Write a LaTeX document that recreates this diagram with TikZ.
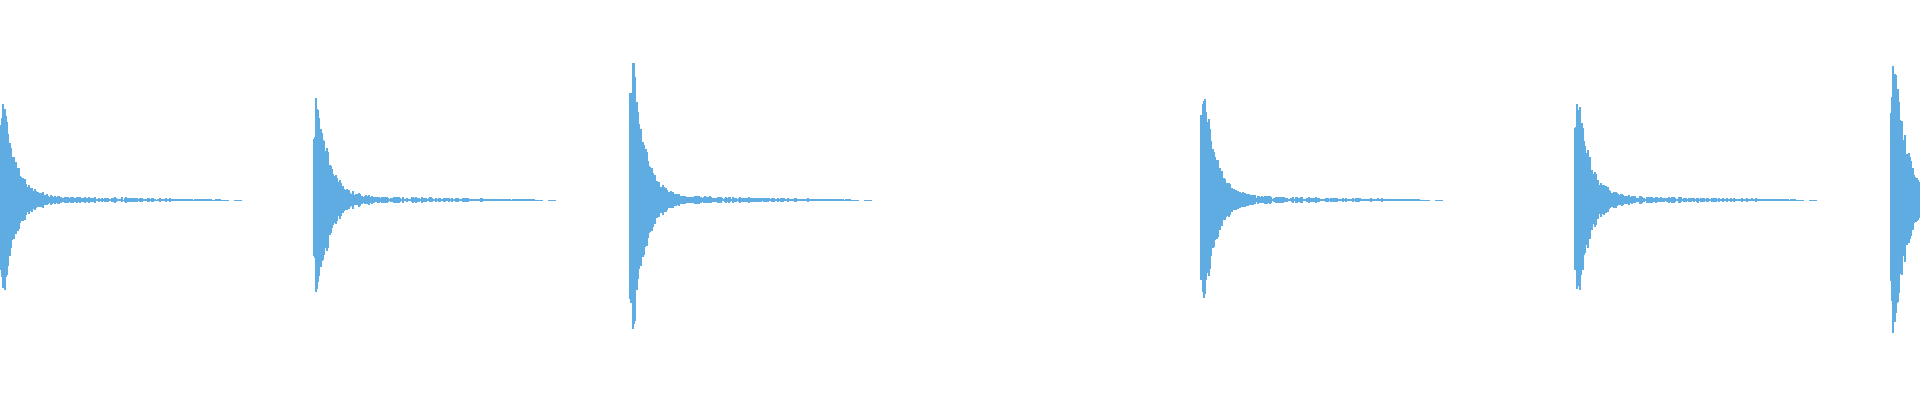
\documentclass[tikz,border=0pt]{standalone}
\definecolor{wave}{RGB}{94,172,226}
\begin{document}
\begin{tikzpicture}[x=1pt,y=-1pt,wavebar/.style={draw=wave,line width=1.1pt}]
\useasboundingbox (0,0) rectangle (1920,400);
\pgfmathsetseed{11}
\foreach \xz/\amp in {0/104,314/102,630/138,1201/110,1575/101,1891/141}{
  \foreach \i in {0,...,220}{
    \pgfmathsetmacro{\xx}{\xz+\i}
    \ifdim\xx pt<1920pt
    \pgfmathsetmacro{\env}{\amp*exp(-max(\i-4,0)/12)*(0.72+0.28*rnd)*(\i<2?0.75:1)+ (4.5-\i/55)*rnd}
    \pgfmathsetmacro{\up}{200-\env-0.4}
    \pgfmathsetmacro{\dn}{200+\env*(0.9+0.1*rnd)+0.4}
    \draw[wavebar] (\xx,\up) -- (\xx,\dn);
    \fi
  }
  \coordinate (base\xz) at (\xz,200);
  \coordinate (tail\xz) at (\xz+242,200);
  \draw[wave,line width=1pt,dash pattern=on 8pt off 5pt] ([xshift=221pt]base\xz) -- (tail\xz);
}
\end{tikzpicture}
\end{document}
